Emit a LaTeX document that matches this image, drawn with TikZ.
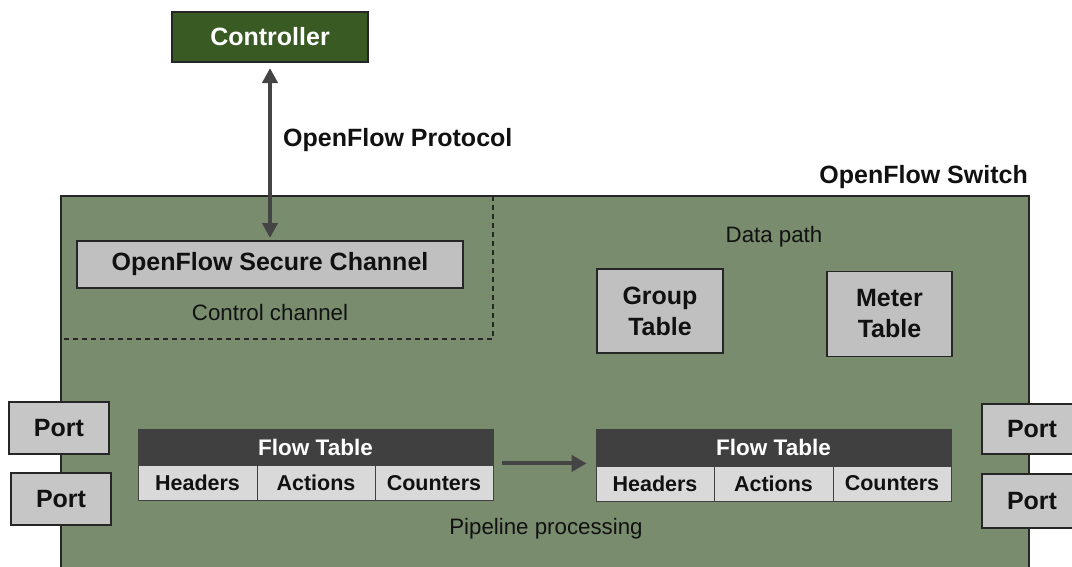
\documentclass[tikz,border=0pt]{standalone}
\usepackage{fontspec}
\setmainfont{Liberation Sans}
\usetikzlibrary{arrows.meta}
\definecolor{ctrlgreen}{HTML}{3A5A24}
\definecolor{swgreen}{HTML}{7A8C6E}
\definecolor{boxgray}{HTML}{C0C0C0}
\definecolor{portgray}{HTML}{C6C6C6}
\definecolor{cellgray}{HTML}{D9D9D9}
\definecolor{hdrgray}{HTML}{404040}
\definecolor{arrowgray}{HTML}{444444}
\definecolor{edgecol}{HTML}{262626}
\definecolor{txt}{HTML}{111111}
\tikzset{
  bx/.style={draw=edgecol, line width=1.3pt, inner sep=0pt, outer sep=0pt, align=center, text=txt},
  graybox/.style={bx, fill=boxgray, font=\bfseries\fontsize{25}{31}\selectfont},
  portbox/.style={bx, fill=portgray, font=\bfseries\fontsize{25}{28}\selectfont, minimum width=100},
  hdr/.style={draw=hdrgray, fill=hdrgray, line width=0.8pt, inner sep=0pt, text=white, font=\bfseries\fontsize{22.5}{24}\selectfont, minimum width=355, minimum height=36},
  cell/.style={draw=hdrgray, fill=cellgray, line width=1pt, inner sep=0pt, text=txt, font=\bfseries\fontsize{21.5}{24}\selectfont, minimum height=35},
  plain/.style={inner sep=0pt, text=txt, font=\fontsize{22.3}{24}\selectfont},
  boldlbl/.style={inner sep=0pt, text=txt, font=\bfseries\fontsize{25}{28}\selectfont},
  arr/.style={draw=arrowgray, line width=4pt},
}
\begin{document}
\begin{tikzpicture}[x=1pt,y=-1pt]
\useasboundingbox (0,0) rectangle (1072,566);
\clip (0,0) rectangle (1072,566);

% switch body
\node[draw=edgecol, line width=1.3pt, fill=swgreen, inner sep=0pt, outer sep=0pt,
      minimum width=968, minimum height=404, anchor=north west] (sw) at (61,196) {};
\coordinate (dtop) at (493,196);
\coordinate (dcorner) at (493,339);
\coordinate (dleft) at (61,339);
\draw[edgecol, line width=1.3pt, dash pattern=on 5pt off 4pt] (dtop) -- (dcorner) -- (dleft);

% controller
\node[bx, fill=ctrlgreen, text=white, font=\bfseries\fontsize{25}{28}\selectfont,
      minimum width=196, minimum height=50] (ctrl) at (270,37) {Controller};

% secure channel
\node[graybox, minimum width=386, minimum height=47] (sec) at (270,264.5) {OpenFlow Secure Channel};
\node[plain] (cc) at (270,313) {Control channel};

% protocol arrow
\draw[arr, {Triangle[width=15pt,length=15pt]}-{Triangle[width=15pt,length=15pt]}]
  ([yshift=-6pt]ctrl.south) -- ([yshift=3pt]sec.north);
\node[boldlbl, anchor=west] (proto) at (283,140) {OpenFlow Protocol};
\node[boldlbl, anchor=east] (swlbl) at (1028,177) {OpenFlow Switch};

% data path
\node[plain] (dp) at (774,237) {Data path};
\node[graybox, minimum width=126, minimum height=84] (grp) at (660,311) {Group\\Table};
\node[graybox, minimum width=125, minimum height=85] (mtr) at (889.5,314) {Meter\\Table};

% ports
\node[portbox, minimum height=52] (pl1) at (59,428) {Port};
\node[portbox, minimum height=52] (pl2) at (61,499) {Port};
\node[portbox, minimum height=50] (pr1) at (1032,429) {Port};
\node[portbox, minimum height=54] (pr2) at (1032,501) {Port};

% flow table 1
\node[hdr] (ft1) at (315.5,447) {Flow Table};
\node[cell, minimum width=119] (h1) at (197.5,483) {Headers};
\node[cell, minimum width=118] (a1) at (316,483) {Actions};
\node[cell, minimum width=118] (c1) at (434,483) {Counters};

% flow table 2
\node[hdr] (ft2) at (773.5,447.5) {Flow Table};
\node[cell, minimum width=118] (h2) at (655,483.5) {Headers};
\node[cell, minimum width=119] (a2) at (773.5,483.5) {Actions};
\node[cell, minimum width=118] (c2) at (892,483.5) {Counters};

\draw[arr, -{Triangle[width=16pt,length=15pt]}] ([xshift=9pt,yshift=2pt]ft1.south east) -- ([xshift=-9pt,yshift=2.5pt]ft2.south west);

\node[plain] (pp) at (546,529) {Pipeline processing};
\end{tikzpicture}
\end{document}
